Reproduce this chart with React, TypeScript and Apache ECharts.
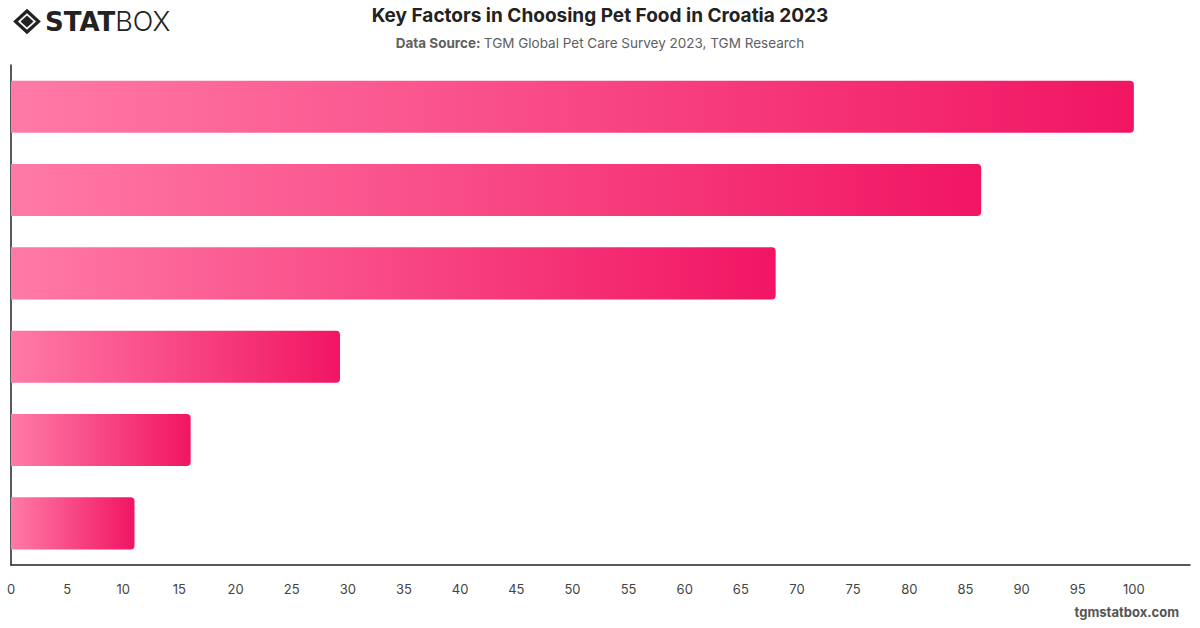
import React, { useEffect, useRef } from "react";
import * as echarts from "echarts";

const factors = [
  "Quality of ingredients",
  "Price",
  "Nutritional value",
  "Brand reputation",
  "Vet recommendation",
  "Packaging",
];
const shares = [100, 86.4, 68.1, 29.3, 16.0, 11.0];
const tickStep = 5;
const axisMax = 105;

export default function App() {
  const ref = useRef<HTMLDivElement>(null);

  useEffect(() => {
    if (!ref.current) return;
    const chart = echarts.init(ref.current, undefined, { renderer: "svg" });
    const font = "Inter, 'Noto Sans', Arial, sans-serif";
    chart.setOption({
      animation: false,
      backgroundColor: "#ffffff",
      grid: { left: 11, right: 10, top: 65, bottom: 63, containLabel: false },
      xAxis: {
        type: "value",
        min: 0,
        max: axisMax,
        interval: tickStep,
        axisLine: { show: true, lineStyle: { color: "#222", width: 1.5 } },
        axisTick: { show: false },
        splitLine: { show: false },
        axisLabel: {
          color: "#444",
          fontSize: 13,
          fontFamily: font,
          margin: 17,
          formatter: (v: number) => (v > 100 ? "" : String(v)),
        },
      },
      yAxis: {
        type: "category",
        data: factors,
        inverse: true,
        axisLine: { show: true, lineStyle: { color: "#222", width: 1.5 } },
        axisTick: { show: false },
        axisLabel: { show: false },
        splitLine: { show: false },
      },
      series: [
        {
          type: "bar",
          data: shares,
          barWidth: "62.5%",
          itemStyle: {
            borderRadius: [0, 4, 4, 0],
            color: new echarts.graphic.LinearGradient(0, 0, 1, 0, [
              { offset: 0, color: "#ff7aa7" },
              { offset: 1, color: "#f11563" },
            ]),
          },
        },
      ],
      graphic: [
        // logo mark: outlined diamond with a solid inner diamond
        {
          type: "polygon",
          shape: { points: [[27, 11], [38.5, 21.5], [27, 32], [15.5, 21.5]] },
          style: { fill: "none", stroke: "#222", lineWidth: 3.2 },
        },
        {
          type: "polygon",
          shape: { points: [[27, 15.5], [33.5, 21.5], [27, 27.5], [20.5, 21.5]] },
          style: { fill: "#222" },
        },
        {
          type: "text",
          left: 45,
          top: 8,
          style: {
            rich: {
              a: { font: "900 26px 'DejaVu Sans', Inter, sans-serif", fill: "#222" },
              b: { font: "300 27px Inter, 'Noto Sans', sans-serif", fill: "#222" },
            },
            text: "{a|STAT}{b|BOX}",
          },
        },
        {
          type: "text",
          left: "center",
          top: 6,
          style: {
            text: "Key Factors in Choosing Pet Food in Croatia 2023",
            font: `bold 19px ${font}`,
            fill: "#222",
          },
        },
        {
          type: "text",
          left: "center",
          top: 36,
          style: {
            rich: {
              b: { font: `bold 13.5px ${font}`, fill: "#606060" },
              r: { font: `13.5px ${font}`, fill: "#606060" },
            },
            text: "{b|Data Source:} {r|TGM Global Pet Care Survey 2023, TGM Research}",
          },
        },
        {
          type: "text",
          right: 21,
          top: 605,
          style: {
            text: "tgmstatbox.com",
            font: `bold 13px ${font}`,
            fill: "#555",
          },
        },
      ],
    });
    return () => chart.dispose();
  }, []);

  return (
    <div
      ref={ref}
      style={{ position: "absolute", left: 0, top: 0, width: 1200, height: 628 }}
    />
  );
}
